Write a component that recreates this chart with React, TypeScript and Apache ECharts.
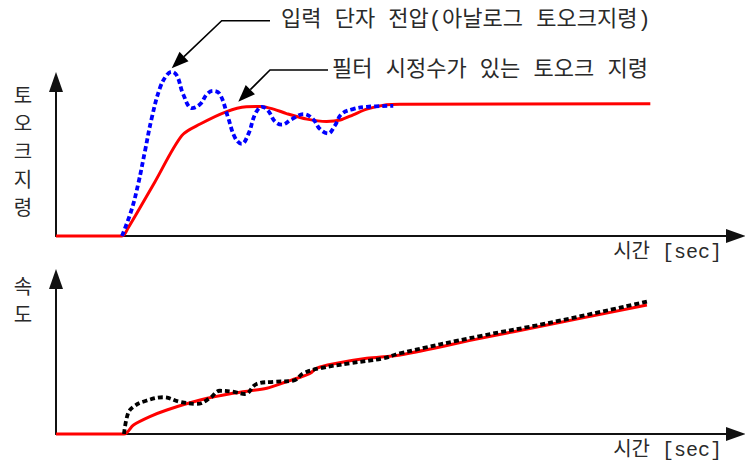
import React, { useEffect, useRef } from "react";
import * as echarts from "echarts";

// Top panel: torque command (time 0..100, value 0..100 of axis height)
const filteredTorque: [number, number][] = [
  [0, 0], [9.7, 0], [10.6, 5.2], [14.5, 34.8], [18.5, 65.2], [21.2, 72.7], [25.1, 80.8],
  [28.0, 83.9], [30.0, 84.1], [32.0, 82.4], [33.9, 79.5], [36.9, 75.9], [39.8, 74.4],
  [41.8, 75.3], [43.7, 78.7], [45.7, 82.4], [48.6, 85.2], [50.6, 85.6], [87.4, 85.8],
];
const inputTorque: [number, number][] = [
  [9.7, 0], [11.1, 16.8], [12.1, 34.0], [13.1, 55.5], [14.1, 77.0], [15.3, 96.3], [16.3, 104.5],
  [17.0, 106.6], [17.8, 103.9], [18.7, 92.1], [20.0, 83.0], [21.2, 85.6], [22.2, 92.1],
  [23.1, 94.2], [24.1, 92.1], [25.3, 77.0], [26.3, 64.1], [27.3, 59.8], [28.3, 66.3],
  [29.3, 79.2], [30.3, 83.9], [31.2, 81.3], [32.2, 74.4], [33.2, 72.3], [34.7, 75.9],
  [36.4, 79.2], [37.8, 75.9], [38.8, 69.5], [40.0, 66.6], [41.0, 71.6], [42.0, 79.2],
  [43.7, 82.4], [45.7, 83.9], [49.6, 84.5],
];
// Bottom panel: speed
const filteredSpeed: [number, number][] = [
  [0, 0], [10.0, 0], [11.4, 5.8], [13.8, 11.2], [16.3, 15.5], [21.2, 21.9], [26.0, 26.3],
  [31.0, 29.5], [33.9, 33.7], [35.9, 36.6], [37.4, 39.2], [38.3, 42.4], [40.7, 45.2],
  [45.7, 48.8], [50.6, 51.0], [62.4, 61.7], [72.2, 70.3], [86.9, 83.2],
];
const inputSpeed: [number, number][] = [
  [10.0, 0], [10.6, 13.4], [11.4, 17.6], [12.8, 20.8], [15.8, 23.7], [18.2, 20.8],
  [20.7, 19.4], [22.6, 23.0], [24.1, 27.9], [26.0, 27.3], [27.8, 25.8], [29.5, 32.3],
  [32.0, 33.7], [34.9, 34.4], [36.4, 39.2], [38.8, 42.4], [43.2, 45.6], [48.1, 48.8],
  [50.6, 52.1], [62.4, 63.2], [72.2, 71.4], [86.9, 85.4],
];

const xAxisName = "시간 [sec]";
const topYName = "토\n오\n크\n지\n령";
const bottomYName = "속\n도";
const annotationInput = "입력 단자 전압(아날로그 토오크지령)";
const annotationFiltered = "필터 시정수가 있는 토오크 지령";

const FONT = "'Liberation Mono', 'Noto Sans CJK KR', sans-serif";
const TEXT_COLOR = "#2a2a2a";

function arrowElements(tail: number[], tip: number[], head: number[]) {
  const dx = tip[0] - tail[0];
  const dy = tip[1] - tail[1];
  const len = Math.sqrt(dx * dx + dy * dy);
  const ux = dx / len;
  const uy = dy / len;
  const hl = 17;
  const hw = 6.5;
  const bx = tip[0] - ux * hl;
  const by = tip[1] - uy * hl;
  const nx = -uy;
  const ny = ux;
  return [
    {
      type: "polyline",
      shape: { points: [head, tail, [bx, by]] },
      style: { stroke: "#000", lineWidth: 1.6, fill: "none" },
    },
    {
      type: "polygon",
      shape: {
        points: [
          tip,
          [bx + nx * hw, by + ny * hw],
          [bx - nx * hw, by - ny * hw],
        ],
      },
      style: { fill: "#000" },
    },
  ];
}

export default function App() {
  const ref = useRef<HTMLDivElement>(null);
  useEffect(() => {
    if (!ref.current) return;
    const chart = echarts.init(ref.current, undefined, { renderer: "svg" });
    const axisLine = {
      show: true,
      onZero: false,
      symbol: ["none", "triangle"],
      symbolSize: [14, 20],
      lineStyle: { color: "#111", width: 2 },
    };
    const xCommon = {
      type: "value" as const,
      min: 0,
      max: 100,
      axisLine,
      axisTick: { show: false },
      axisLabel: { show: false },
      splitLine: { show: false },
      name: xAxisName,
      nameLocation: "end" as const,
      nameGap: -14,
      nameTextStyle: {
        fontSize: 20,
        color: TEXT_COLOR,
        fontFamily: FONT,
        align: "right",
        verticalAlign: "top",
        padding: [7, 0, 0, 0],
      },
    };
    const yCommon = {
      type: "value" as const,
      min: 0,
      max: 100,
      axisLine,
      axisTick: { show: false },
      axisLabel: { show: false },
      splitLine: { show: false },
    };
    chart.setOption({
      animation: false,
      backgroundColor: "#fff",
      grid: [
        { left: 56, right: 9, top: 82, height: 154 },
        { left: 56, right: 9, top: 279, height: 155 },
      ],
      xAxis: [
        { ...xCommon, gridIndex: 0 },
        { ...xCommon, gridIndex: 1 },
      ],
      yAxis: [
        { ...yCommon, gridIndex: 0 },
        { ...yCommon, gridIndex: 1 },
      ],
      series: [
        {
          type: "line",
          name: "filteredTorque",
          xAxisIndex: 0,
          yAxisIndex: 0,
          data: filteredTorque,
          smooth: 0.3,
          showSymbol: false,
          clip: false,
          lineStyle: { color: "#ff0000", width: 3 },
          z: 3,
        },
        {
          type: "line",
          name: "inputTorque",
          xAxisIndex: 0,
          yAxisIndex: 0,
          data: inputTorque,
          smooth: 0.4,
          showSymbol: false,
          clip: false,
          lineStyle: { color: "#0000ff", width: 3.8, type: [5, 3] },
          z: 4,
        },
        {
          type: "line",
          name: "filteredSpeed",
          xAxisIndex: 1,
          yAxisIndex: 1,
          data: filteredSpeed,
          smooth: 0.3,
          showSymbol: false,
          clip: false,
          lineStyle: { color: "#ff0000", width: 3 },
          z: 3,
        },
        {
          type: "line",
          name: "inputSpeed",
          xAxisIndex: 1,
          yAxisIndex: 1,
          data: inputSpeed,
          smooth: 0.4,
          showSymbol: false,
          clip: false,
          lineStyle: { color: "#000", width: 3.8, type: [5, 3] },
          z: 4,
        },
      ],
      graphic: [
        {
          type: "text",
          x: 23,
          y: 153,
          style: {
            text: topYName,
            fontSize: 20,
            lineHeight: 28,
            fontFamily: FONT,
            fill: TEXT_COLOR,
            align: "center",
            verticalAlign: "middle",
          },
        },
        {
          type: "text",
          x: 23,
          y: 302,
          style: {
            text: bottomYName,
            fontSize: 20,
            lineHeight: 28,
            fontFamily: FONT,
            fill: TEXT_COLOR,
            align: "center",
            verticalAlign: "middle",
          },
        },
        {
          type: "text",
          x: 281,
          y: 20,
          style: {
            text: annotationInput,
            fontSize: 22,
            fontFamily: FONT,
            fill: TEXT_COLOR,
            align: "left",
            verticalAlign: "middle",
          },
        },
        {
          type: "text",
          x: 332,
          y: 70,
          style: {
            text: annotationFiltered,
            fontSize: 22,
            fontFamily: FONT,
            fill: TEXT_COLOR,
            align: "left",
            verticalAlign: "middle",
          },
        },
        ...arrowElements([221.7, 20.7], [171.7, 68.3], [270, 20.7]),
        ...arrowElements([270, 70], [238.3, 101.7], [328, 70]),
      ],
    });
    return () => chart.dispose();
  }, []);
  return (
    <div
      ref={ref}
      style={{ position: "fixed", left: 0, top: 0, width: 745, height: 466, background: "#fff" }}
    />
  );
}
